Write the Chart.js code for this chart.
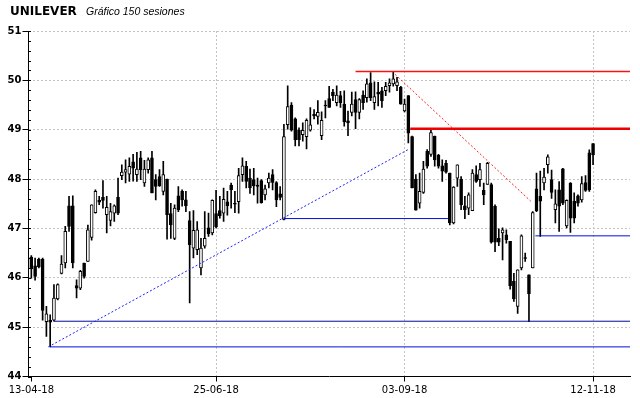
<!DOCTYPE html>
<html>
<head>
<meta charset="utf-8">
<script src="https://cdn.jsdelivr.net/npm/chart.js@4.4.1/dist/chart.umd.min.js"></script>
<style>
  body { margin: 0; background: #fff; }
  #wrap { position: relative; width: 640px; height: 398px; }
  #titulo { position: absolute; left: 10px; top: 5px; font: bold 12px/12px "DejaVu Sans"; color: #000; }
  #sub { position: absolute; left: 86px; top: 6px; font: italic 10.5px/10.5px "Liberation Sans"; color: #000; }
  canvas { position: absolute; left: 0; top: 0; }
</style>
</head>
<body>
<div id="wrap">
  <canvas id="grafico" width="640" height="398"></canvas>
  <div id="titulo">UNILEVER</div>
  <div id="sub">Gráfico 150 sesiones</div>
</div>
<script>
// datos de las 150 sesiones (apertura, maximo, minimo, cierre)
const apertura = [46.42,46.24,46.38,46.38,45.11,45.14,45.14,45.57,46.09,46.30,47.46,47.46,45.84,45.79,46.30,46.33,46.82,47.32,47.57,47.63,
  47.28,47.16,47.31,47.63,48.07,48.14,48.10,48.35,48.09,48.43,47.92,48.19,48.43,47.99,48.05,47.75,48.00,47.30,46.80,47.66,
  47.75,47.58,47.16,46.60,46.57,46.20,46.64,47.01,46.91,47.30,47.36,47.31,47.54,47.88,47.51,47.54,48.09,48.26,48.02,47.99,
  47.88,47.97,47.68,47.92,48.09,47.93,47.70,47.18,49.10,49.50,49.22,48.99,48.90,48.86,48.99,49.31,49.27,48.88,49.50,49.63,
  49.76,49.55,49.69,49.52,49.18,49.35,49.61,49.35,49.70,49.65,49.95,49.55,49.76,49.79,49.79,49.89,49.93,49.89,49.86,49.38,
  49.69,48.86,48.00,47.51,47.73,48.56,48.50,48.87,48.48,48.27,48.32,48.12,47.11,48.02,48.00,47.46,47.41,47.36,48.09,47.99,
  47.77,47.89,47.89,47.45,46.80,46.91,46.87,46.74,45.93,45.42,46.20,46.41,46.06,46.20,47.80,47.65,47.92,48.29,47.99,47.38,
  47.78,48.21,47.05,47.92,47.55,47.66,47.58,47.93,48.53,48.72];
const maximo = [46.45,46.40,46.40,46.40,45.42,45.25,45.86,45.88,46.45,47.04,47.65,47.66,45.96,46.15,46.30,47.07,47.48,47.78,47.65,47.97,
  47.65,47.51,47.48,48.02,48.29,48.39,48.43,48.50,48.54,48.56,48.38,48.43,48.56,48.09,48.19,48.36,48.00,47.51,47.48,47.85,
  47.78,47.75,47.34,47.36,47.14,46.80,47.34,47.31,47.58,47.77,47.65,47.82,47.75,47.92,47.75,48.22,48.43,48.36,48.20,48.22,
  48.02,47.99,47.88,48.12,48.19,47.95,47.85,49.11,49.89,49.55,49.24,49.04,49.14,49.22,49.45,49.41,49.59,49.36,49.59,49.88,
  49.82,49.89,49.78,49.79,49.38,49.76,49.77,49.63,49.79,50.03,50.16,49.97,49.96,49.86,49.96,50.03,50.18,50.06,49.88,49.62,
  49.69,48.87,48.09,48.12,48.36,48.60,49.01,48.87,48.50,48.39,48.38,48.12,47.85,48.29,48.05,47.65,47.72,48.19,48.27,48.32,
  47.92,48.34,47.92,47.48,46.99,47.01,46.97,46.74,46.09,46.16,46.87,46.50,46.06,47.34,48.12,48.16,48.22,48.49,48.18,47.78,
  47.95,48.22,47.58,47.93,47.72,47.68,48.05,48.07,48.59,48.72];
const minimo = [45.99,45.95,46.20,45.14,44.81,44.60,45.12,45.55,46.08,46.20,46.94,46.20,45.59,45.76,45.99,46.33,46.76,47.31,47.48,47.41,
  46.91,47.05,47.14,47.28,47.99,47.92,47.95,47.96,47.95,47.99,47.85,48.12,47.72,47.58,47.85,47.68,46.78,46.80,46.77,47.34,
  47.45,47.34,45.49,46.40,46.47,46.06,46.60,46.84,46.87,47.01,47.21,47.14,47.27,47.41,47.32,47.31,47.95,47.82,47.71,47.68,
  47.51,47.51,47.58,47.82,47.78,47.44,47.58,47.17,49.01,48.97,48.67,48.67,48.77,48.61,48.97,49.22,49.11,48.80,49.24,49.45,
  49.59,49.48,49.45,49.07,48.88,49.28,49.02,49.22,49.41,49.56,49.59,49.41,49.48,49.45,49.69,49.76,49.88,49.79,49.52,49.36,
  48.73,47.82,47.37,47.41,47.71,48.22,48.46,48.26,48.22,47.95,48.12,47.07,47.09,47.85,47.38,47.20,47.28,47.36,47.93,47.85,
  47.48,47.89,46.70,46.53,46.65,46.36,46.70,45.77,45.52,45.28,46.16,46.33,45.11,46.20,47.34,46.84,47.78,48.12,47.61,47.11,
  46.94,47.48,47.01,46.92,47.11,47.45,47.53,47.75,47.75,48.29];
const cierre = [46.18,46.03,46.22,45.34,45.27,45.10,45.59,45.86,46.28,46.94,47.04,46.30,45.79,46.13,46.03,46.97,47.48,47.75,47.53,47.57,
  47.43,47.34,47.46,47.31,48.14,48.19,48.26,48.22,48.20,48.19,48.20,48.39,47.72,47.85,47.86,48.09,47.28,47.07,47.41,47.38,
  47.58,47.46,46.67,46.96,46.97,46.60,46.80,46.89,47.57,47.03,47.26,47.59,47.46,47.78,47.49,48.07,48.27,47.95,47.82,47.86,
  47.85,47.52,47.80,48.02,47.93,47.58,47.63,48.86,49.47,48.99,48.80,48.80,48.99,49.19,49.10,49.28,49.35,49.19,49.48,49.45,
  49.69,49.70,49.55,49.16,49.14,49.52,49.35,49.61,49.55,49.93,49.65,49.67,49.72,49.59,49.88,49.95,50.03,49.97,49.52,49.52,
  48.93,47.82,47.37,47.75,48.20,48.26,48.94,48.39,48.26,48.16,48.14,47.11,47.84,48.29,47.48,47.38,47.68,48.12,47.95,48.19,
  47.68,48.32,46.72,46.72,46.72,46.97,46.77,45.84,45.57,46.16,46.85,46.39,45.68,47.32,47.36,47.55,48.04,48.45,47.73,47.50,
  47.45,47.51,47.57,47.21,47.21,47.51,47.91,47.77,47.78,48.49];

// fechas del eje x (indice de sesion)
const posFechas = [0, 49, 99, 149];
const fechas = ['13-04-18', '25-06-18', '03-09-18', '12-11-18'];

// lineas de analisis tecnico [sesion, precio]
const finEje = 158.8;
const resistenciaAlta = [[86, 50.18], [finEje, 50.18]];
const resistencia49 = [[100.5, 49.02], [finEje, 49.02]];
const bajista = [[96.5, 50.12], [132.5, 47.55]];
const alcista = [[4.5, 44.6], [100, 48.6]];
const soporteMin = [[5, 44.6], [finEje, 44.6]];
const soporte45 = [[6, 45.12], [finEje, 45.12]];
const soporte472 = [[67, 47.2], [110.5, 47.2]];
const soporte4685 = [[133.7, 46.85], [finEje, 46.85]];

const puntos = (arr) => arr.map(p => ({ x: p[0], y: p[1] }));
const linea = (arr, color, ancho, dash) => ({
  type: 'line', data: puntos(arr), borderColor: color, backgroundColor: color, borderWidth: ancho,
  borderDash: dash || [], pointRadius: 0, fill: false, tension: 0, order: 0
});

const cuerpos = apertura.map((o, i) => ({ x: i, y: [o, cierre[i]] }));
const mechas = apertura.map((o, i) => ({ x: i, y: [minimo[i], maximo[i]] }));
const colorCuerpo = apertura.map((o, i) => cierre[i] >= o ? '#ffffff' : '#000000');

// marcas menores del eje y cada 0.2
const marcasMenores = {
  id: 'marcasMenores',
  afterDraw(chart) {
    const y = chart.scales.y, ctx = chart.ctx, x0 = Math.round(chart.chartArea.left);
    ctx.save();
    ctx.strokeStyle = '#000';
    ctx.lineWidth = 1;
    ctx.beginPath();
    for (let v = y.min; v <= y.max + 1e-6; v += 0.2) {
      const p = Math.round(y.getPixelForValue(v)) + 0.5;
      ctx.moveTo(x0 - 1, p);
      ctx.lineTo(x0 + 2, p);
    }
    ctx.stroke();
    ctx.restore();
  }
};

const ctx = document.getElementById('grafico').getContext('2d');
new Chart(ctx, {
  type: 'bar',
  data: {
    datasets: [
      linea(resistenciaAlta, '#ff1010', 1.6),
      linea(resistencia49, '#ee0000', 2.5),
      linea(bajista, '#ff2020', 1, [2, 2]),
      linea(alcista, '#2020ff', 1, [2, 2]),
      linea(soporteMin, '#0010e0', 1),
      linea(soporte45, '#000a9c', 1),
      linea(soporte472, '#0010e0', 1),
      linea(soporte4685, '#0010e0', 1),
      {
        data: cuerpos, backgroundColor: colorCuerpo, borderColor: '#000', borderWidth: 1,
        borderSkipped: false, barThickness: 3, grouped: false, order: 1
      },
      {
        data: mechas, backgroundColor: '#000', borderWidth: 0,
        barThickness: 1, grouped: false, order: 2
      }
    ]
  },
  options: {
    responsive: false,
    animation: false,
    devicePixelRatio: 1,
    layout: { padding: { top: 31, right: 10, left: 0, bottom: 0 } },
    plugins: { legend: { display: false }, tooltip: { enabled: false } },
    scales: {
      x: {
        type: 'linear', min: -0.75, max: finEje, offset: false,
        afterFit(s) { s.height = 21.5; },
        afterBuildTicks(s) { s.ticks = posFechas.map(v => ({ value: v })); },
        ticks: {
          callback: (v) => fechas[posFechas.indexOf(v)],
          font: { family: 'DejaVu Sans', size: 10 }, color: '#000',
          maxRotation: 0, autoSkip: false, padding: 3
        },
        grid: {
          offset: false,
          color: (c) => c.index === 0 ? 'rgba(0,0,0,0)' : '#c4c4c4',
          tickColor: '#000', tickLength: 5
        },
        border: { color: '#000', width: 1, dash: [2, 2] }
      },
      y: {
        min: 44, max: 51,
        afterFit(s) { s.width = 28.5; },
        ticks: {
          stepSize: 1, padding: 1, color: '#000',
          font: { family: 'DejaVu Sans', size: 10, weight: 'bold' }
        },
        grid: {
          color: (c) => c.tick && c.tick.value === 44 ? 'rgba(0,0,0,0)' : '#c4c4c4',
          tickColor: '#000', tickLength: 6
        },
        border: { color: '#000', width: 1, dash: [2, 2] }
      }
    }
  },
  plugins: [marcasMenores]
});
</script>
</body>
</html>
